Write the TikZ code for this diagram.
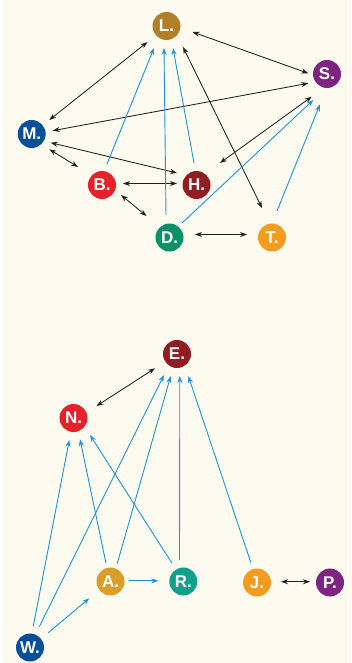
\documentclass[tikz,border=0pt]{standalone}
\usepackage{fontspec}
\setmainfont{Liberation Sans}
\usetikzlibrary{arrows.meta,calc}
\definecolor{bgc}{HTML}{FDFBEF}
\definecolor{cL}{HTML}{B07F28}
\definecolor{cS}{HTML}{7D2581}
\definecolor{cM}{HTML}{0A4E9B}
\definecolor{cB}{HTML}{E5222A}
\definecolor{cH}{HTML}{8F1D21}
\definecolor{cD}{HTML}{0B9168}
\definecolor{cT}{HTML}{F49C1E}
\definecolor{cA}{HTML}{D99F2A}
\definecolor{cR}{HTML}{10A08C}
\definecolor{cblue}{HTML}{1B95D6}
\definecolor{cblack}{HTML}{231F20}
\tikzset{
  pers/.style={circle, fill=#1, minimum size=28pt, inner sep=0pt, text=white,
    font=\bfseries\fontsize{17}{17}\selectfont},
  dbl/.style={draw=cblack, line width=0.85pt, {Stealth[length=7pt,width=5pt]}-{Stealth[length=7pt,width=5pt]}},
  one/.style={draw=cblue, line width=0.9pt, -{Stealth[length=7pt,width=5pt]}}
}
\begin{document}
\begin{tikzpicture}[x=1pt,y=-1pt]
\fill[white] (0,0) rectangle (351,663);
\fill[bgc] (3,0) rectangle (351,663);
\useasboundingbox (0,0) rectangle (351,663);
% top group
\node[pers=cL] (L) at (166.5,26) {L.};
\node[pers=cS] (S) at (327,74) {S.};
\node[pers=cM] (M) at (31.7,134) {M.};
\node[pers=cB] (B) at (102,185) {B.};
\node[pers=cH] (H) at (196.5,185) {H.};
\node[pers=cD] (D) at (169.5,237.5) {D.};
\node[pers=cT] (T) at (272,237.5) {T.};
% bottom group
\node[pers=cH] (E) at (177,354) {E.};
\node[pers=cB] (N) at (73.5,418) {N.};
\node[pers=cA] (A) at (110.5,581.5) {A.};
\node[pers=cR] (R) at (183.3,581.5) {R.};
\node[pers=cT] (J) at (257,582.5) {J.};
\node[pers=cS] (P) at (330,582.5) {P.};
\node[pers=cM] (W) at (30,647.5) {W.};
% top edges, black
\draw[dbl] ($(L)+(26,6)$) -- ($(S)+(-18.7,-0.7)$);
\draw[dbl] ($(L)+(-19,16)$) -- ($(M)+(17.6,-14)$);
\draw[dbl] ($(M)+(21,-3.3)$) -- ($(S)+(-18.7,9.3)$);
\draw[dbl] ($(M)+(19,8.7)$) -- ($(H)+(-19.5,-12)$);
\draw[dbl] ($(M)+(17.6,15.3)$) -- ($(B)+(-24,-18)$);
\draw[dbl] ($(B)+(21,-1.5)$) -- ($(H)+(-19.5,-1.5)$);
\draw[dbl] ($(B)+(19,10)$) -- ($(D)+(-23,-21.5)$);
\draw[dbl] ($(D)+(25.5,-3)$) -- ($(T)+(-25,-3)$);
\draw[dbl] ($(L)+(16.5,21)$) -- ($(T)+(-10,-29.5)$);
\draw[dbl] ($(S)+(-15.3,22.7)$) -- ($(H)+(23.5,-22)$);
% top edges, blue
\draw[one] ($(B)+(5,-21)$) -- ($(L)+(-12.5,22)$);
\draw[one] ($(D)+(-3.5,-22.5)$) -- ($(L)+(-2.5,22)$);
\draw[one] ($(H)+(-2.5,-22)$) -- ($(L)+(6.5,22)$);
\draw[one] ($(D)+(12.5,-14.5)$) -- ($(S)+(-13.7,26)$);
\draw[one] ($(T)+(5,-26.5)$) -- ($(S)+(-7,30.3)$);
% bottom edges
\draw[dbl] ($(E)+(-22,14.3)$) -- ($(N)+(23,-12)$);
\draw[dbl] ($(J)+(24,-0.8)$) -- ($(P)+(-20,-0.8)$);
\draw[one] ($(W)+(3.3,-21.5)$) -- ($(N)+(-4.2,22)$);
\draw[one] ($(W)+(9.3,-20.8)$) -- ($(E)+(-13,21)$);
\draw[one] ($(W)+(18.3,-14.8)$) -- ($(A)+(-21.2,16.8)$);
\draw[one] ($(A)+(-4.5,-18.2)$) -- ($(N)+(6.5,21.3)$);
\draw[one] ($(A)+(6.8,-18.2)$) -- ($(E)+(-6.3,22)$);
\draw[one] ($(A)+(18.8,-0.7)$) -- ($(R)+(-25,-0.7)$);
\draw[one] ($(R)+(-11.3,-18.2)$) -- ($(N)+(16.5,17)$);
\draw[one] ($(R)+(-3.8,-21.5)$) -- ($(E)+(2.8,22)$);
\draw[one] ($(J)+(-6.3,-20.3)$) -- ($(E)+(11.3,22)$);
\end{tikzpicture}
\end{document}
